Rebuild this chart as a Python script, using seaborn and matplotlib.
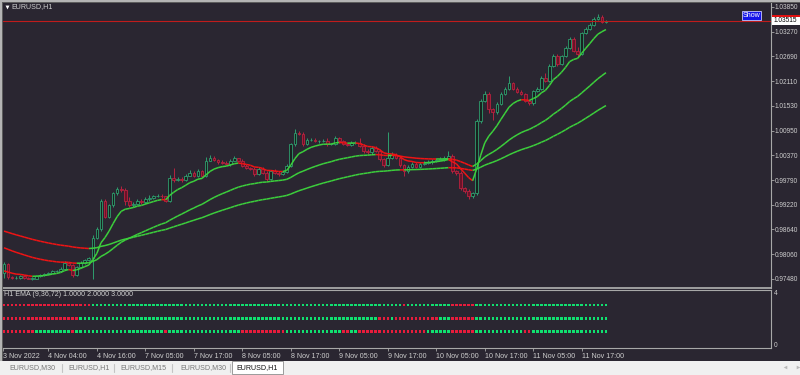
import numpy as np
import pandas as pd
import matplotlib
matplotlib.use("Agg")
import matplotlib.pyplot as plt
import seaborn as sns
from matplotlib.patches import Rectangle
from matplotlib.collections import LineCollection
from matplotlib.lines import Line2D

# ---------------- data ----------------
symbol_title = "EURUSD,H1"
indicator_title = "H1 EMA (9,36,72) 1.0000 2.0000 3.0000"

first_open = 0.9763
closes = [
    0.9784, 0.9753, 0.9751, 0.9751, 0.9756, 0.9751, 0.9749, 0.9749, 0.9756, 0.9758,
    0.9760, 0.9763, 0.9767, 0.9767, 0.9772, 0.9785, 0.9781, 0.9758, 0.9777, 0.9786,
    0.9793, 0.9796, 0.9845, 0.9866, 0.9931, 0.9894, 0.9920, 0.9948, 0.9959, 0.9956,
    0.9931, 0.9920, 0.9924, 0.9931, 0.9927, 0.9936, 0.9938, 0.9941, 0.9943, 0.9941,
    0.9931, 0.9985, 0.9980, 0.9983, 0.9980, 0.9990, 0.9997, 0.9990, 1.0001, 0.9990,
    1.0025, 1.0032, 1.0027, 1.0022, 1.0020, 1.0017, 1.0025, 1.0030, 1.0025, 1.0013,
    1.0008, 1.0006, 0.9994, 1.0006, 0.9997, 0.9983, 1.0001, 0.9997, 0.9994, 0.9999,
    1.0013, 1.0064, 1.0090, 1.0088, 1.0064, 1.0074, 1.0074, 1.0071, 1.0071, 1.0071,
    1.0064, 1.0064, 1.0078, 1.0071, 1.0064, 1.0062, 1.0067, 1.0067, 1.0060, 1.0048,
    1.0044, 1.0055, 1.0048, 1.0029, 1.0015, 1.0032, 1.0039, 1.0032, 1.0015, 1.0001,
    1.0011, 1.0018, 1.0011, 1.0018, 1.0020, 1.0022, 1.0025, 1.0027, 1.0029, 1.0032,
    1.0036, 1.0001, 0.9997, 0.9962, 0.9955, 0.9943, 0.9948, 1.0118, 1.0165, 1.0181,
    1.0146, 1.0139, 1.0158, 1.0181, 1.0193, 1.0207, 1.0193, 1.0186, 1.0181, 1.0165,
    1.0160, 1.0188, 1.0193, 1.0219, 1.0212, 1.0247, 1.0270, 1.0252, 1.0270, 1.0289,
    1.0310, 1.0282, 1.0275, 1.0324, 1.0334, 1.0343, 1.0357, 1.0362, 1.0350, 1.03515,
]
upper_wick_pips = [
    4, 2, 2, 3, 2, 2, 2, 3, 2, 2, 3, 2, 3, 2, 3, 4, 2, 3, 2, 3,
    2, 3, 5, 4, 3, 4, 3, 4, 5, 6, 4, 8, 3, 4, 5, 3, 6, 3, 4, 3,
    2, 6, 22, 4, 3, 4, 5, 3, 4, 3, 8, 5, 3, 2, 4, 3, 3, 5, 2, 3,
    3, 2, 4, 3, 4, 3, 3, 5, 3, 2, 4, 3, 10, 4, 5, 3, 4, 5, 3, 4,
    6, 3, 4, 3, 3, 2, 4, 3, 10, 3, 3, 4, 3, 4, 3, 60, 5, 3, 4, 3,
    3, 3, 4, 3, 3, 4, 3, 3, 5, 4, 12, 4, 3, 3, 2, 3, 3, 5, 5, 6,
    4, 3, 4, 4, 5, 17, 3, 4, 3, 3, 2, 3, 4, 5, 10, 3, 5, 4, 3, 4,
    5, 4, 8, 3, 4, 3, 4, 5, 4, 2,
]
lower_wick_pips = [
    12, 4, 3, 2, 3, 2, 2, 3, 2, 3, 2, 3, 2, 3, 2, 3, 3, 6, 3, 2,
    3, 2, 48, 4, 5, 4, 3, 4, 3, 4, 10, 4, 3, 3, 4, 3, 5, 3, 2, 4,
    4, 3, 4, 3, 5, 3, 2, 4, 3, 4, 3, 2, 3, 4, 3, 3, 4, 2, 3, 4,
    3, 4, 5, 3, 4, 6, 4, 3, 5, 3, 4, 3, 4, 3, 5, 3, 4, 3, 4, 3,
    4, 3, 3, 4, 3, 4, 3, 3, 4, 5, 3, 4, 3, 4, 5, 3, 4, 3, 4, 12,
    4, 3, 3, 4, 3, 3, 4, 3, 3, 4, 3, 4, 6, 5, 6, 7, 5, 3, 4, 3,
    10, 20, 4, 3, 3, 4, 3, 4, 3, 4, 5, 4, 3, 4, 3, 4, 3, 5, 4, 3,
    4, 3, 5, 4, 3, 3, 2, 3, 3, 3,
]
ema_periods = [9, 36, 72]
ema_seeds = [0.9767, 0.9821, 0.9860]
ema_levels = [1, 2, 3]

last_price = 1.03515
last_price_label = "1.03515"
price_ticks = [1.03850, 1.03270, 1.02690, 1.02110, 1.01530, 1.00950,
               1.00370, 0.99790, 0.99220, 0.98640, 0.98060, 0.97480]
price_tick_labels = ["1.03850", "1.03270", "1.02690", "1.02110", "1.01530", "1.00950",
                     "1.00370", "0.99790", "0.99220", "0.98640", "0.98060", "0.97480"]
time_tick_bars = [-0.2, 11, 23, 35, 47, 59, 71, 83, 95, 107, 119, 131, 143]
time_tick_labels = ["3 Nov 2022", "4 Nov 04:00", "4 Nov 16:00", "7 Nov 05:00", "7 Nov 17:00",
                    "8 Nov 05:00", "8 Nov 17:00", "9 Nov 05:00", "9 Nov 17:00",
                    "10 Nov 05:00", "10 Nov 17:00", "11 Nov 05:00", "11 Nov 17:00"]
tab_labels = ["EURUSD,M30", "EURUSD,H1", "EURUSD,M15", "EURUSD,M30", "EURUSD,H1"]

# ---------------- style ----------------
sns.set_style("dark")
plt.rcParams['font.family'] = ['Liberation Sans', 'DejaVu Sans']

BG = '#2a2631'
FRAME = '#a8a8a8'
TXT = '#cfcfcf'
LINE_GREEN = '#3ccf3c'
LINE_RED = '#f01414'
DOT_GREEN = '#10e070'
DOT_RED = '#e81c3c'
BULL_EDGE = '#2f9e6e'
BULL_FILL = '#18221f'
BEAR_EDGE = '#b8223f'
BEAR_FILL = '#6b1228'
FS = 5.1
FS_P = 4.7

W, H = 800, 375
def fx(x): return x / W
def fy(y): return 1 - y / H

fig = plt.figure(figsize=(8, 3.75), dpi=100, facecolor=BG)

ax = fig.add_axes([fx(3), fy(288), (771 - 3) / W, (288 - 3) / H])
axi = fig.add_axes([fx(3), fy(347.5), (771 - 3) / W, (347.5 - 290) / H])
for a in (ax, axi):
    a.set_facecolor(BG)
    a.grid(False)
    for s in a.spines.values():
        s.set_color(FRAME)
        s.set_linewidth(0.8)
    a.spines['left'].set_visible(False)
ax.spines['top'].set_visible(False)
ax.spines['bottom'].set_linewidth(1.3)

# ---------------- candles ----------------
c = np.array(closes)
n = len(c)
idx = np.arange(n)
o = np.r_[first_open, c[:-1]]
hi = np.maximum(o, c) + np.array(upper_wick_pips) * 1e-4
lo = np.minimum(o, c) - np.array(lower_wick_pips) * 1e-4
up = c >= o
dn = ~up

ax.vlines(idx[up], lo[up], hi[up], colors=BULL_EDGE, linewidth=0.7, zorder=1)
ax.vlines(idx[dn], lo[dn], hi[dn], colors=BEAR_EDGE, linewidth=0.7, zorder=1)
ax.bar(idx[up], np.maximum(c - o, 2e-5)[up], bottom=o[up], width=0.68,
       color=BULL_FILL, edgecolor=BULL_EDGE, linewidth=0.6, zorder=2)
ax.bar(idx[dn], np.maximum(o - c, 2e-5)[dn], bottom=c[dn], width=0.68,
       color=BEAR_FILL, edgecolor=BEAR_EDGE, linewidth=0.6, zorder=2)

# ---------------- EMAs ----------------
emas = []
for p, s in zip(ema_periods, ema_seeds):
    k = 2.0 / (p + 1)
    e = [s]
    for v in c[1:]:
        e.append(e[-1] + k * (v - e[-1]))
    emas.append(np.array(e))

rows = []
for level, e in zip(ema_levels, emas):
    d = np.diff(e)
    segs = [[(i, e[i]), (i + 1, e[i + 1])] for i in range(n - 1)]
    cols = [LINE_GREEN if v >= 0 else LINE_RED for v in d]
    ax.add_collection(LineCollection(segs, colors=cols, linewidths=1.1,
                                     capstyle='butt', zorder=4))
    st = np.r_[d[0], d] >= 0
    for i in range(n):
        rows.append((i, level, 'up' if st[i] else 'down'))
dots = pd.DataFrame(rows, columns=['bar', 'level', 'dir'])

ax.axhline(last_price, color='#c01c1c', linewidth=0.8, zorder=3)

ax.set_xlim(-0.2475, 189.85)
ax.set_ylim(0.97269, 1.03937)
ax.set_xticks([])
ax.yaxis.tick_right()
ax.set_yticks(price_ticks)
ax.set_yticklabels(price_tick_labels)
ax.tick_params(axis='y', right=True, left=False, length=2.0, width=0.6, color=FRAME,
               labelsize=FS_P, labelcolor=TXT, pad=0.8)
ax.set_xlabel('')
ax.set_ylabel('')

# ---------------- indicator panel ----------------
sns.scatterplot(data=dots, x='bar', y='level', hue='dir',
                palette={'up': DOT_GREEN, 'down': DOT_RED},
                marker='s', s=3.3, linewidth=0, antialiased=False,
                ax=axi, legend=False, zorder=3)
axi.set_xlim(-0.2475, 189.85)
axi.set_ylim(-0.235, 4.157)
axi.yaxis.tick_right()
axi.set_yticks([0, 4])
axi.set_yticklabels(['0', '4'])
axi.tick_params(axis='y', right=True, left=False, length=0, labelsize=FS_P,
                labelcolor=TXT, pad=2)
axi.set_xticks(time_tick_bars)
axi.set_xticklabels(time_tick_labels)
axi.tick_params(axis='x', bottom=True, length=2.5, width=0.6, color=FRAME,
                labelsize=FS, labelcolor=TXT, pad=1.2)
for lab in axi.get_xticklabels():
    lab.set_horizontalalignment('left')
axi.set_xlabel('')
axi.set_ylabel('')
axi.text(0.0015, 0.93, indicator_title, transform=axi.transAxes, fontsize=FS,
         color=TXT, va='center', ha='left')

# ---------------- frame & decorations ----------------
fig.add_artist(Rectangle((0, fy(361)), fx(2), 361 / H, transform=fig.transFigure,
                         facecolor='#b4b4b4', edgecolor='none'))
fig.add_artist(Rectangle((fx(2), fy(361)), fx(1), 359 / H, transform=fig.transFigure,
                         facecolor='#5c5c5c', edgecolor='none'))
fig.add_artist(Rectangle((0, fy(2)), 1, 2 / H, transform=fig.transFigure,
                         facecolor='#b4b4b4', edgecolor='none'))
fig.add_artist(Rectangle((fx(2), fy(3)), 1, 1 / H, transform=fig.transFigure,
                         facecolor='#5c5c5c', edgecolor='none'))

# title
fig.add_artist(Line2D([fx(6.5)], [fy(6.5)], marker='v', markersize=2.8, color='white',
                      markeredgewidth=0, transform=fig.transFigure))
fig.text(fx(11), fy(6.8), symbol_title, fontsize=FS, color=TXT, va='center', ha='left')

# Show button
fig.add_artist(Rectangle((fx(741.5), fy(20)), 19.5 / W, 9 / H, transform=fig.transFigure,
                         facecolor='#1414e8', edgecolor='#c8c8ff', linewidth=0.6))
fig.text(fx(751.3), fy(15.6), "Show", fontsize=FS, color='white', va='center', ha='center')

# last price label
fig.add_artist(Rectangle((fx(771.5), fy(17)), 28.5 / W, 2 / H, transform=fig.transFigure,
                         facecolor='#e01010', edgecolor='none'))
fig.add_artist(Rectangle((fx(771.5), fy(24.5)), 28.5 / W, 7 / H, transform=fig.transFigure,
                         facecolor='white', edgecolor='none'))
fig.text(fx(773.5), fy(21), last_price_label, fontsize=FS_P, color='black', va='center', ha='left')

# tab bar
fig.add_artist(Rectangle((0, 0), 1, 14 / H, transform=fig.transFigure,
                         facecolor='#f0f0f0', edgecolor='none'))
tab_centers = [32, 89, 143.5, 203.5, 257.5]
for x in [62, 114, 172, 230]:
    fig.add_artist(Line2D([fx(x), fx(x)], [fy(363.5), fy(372)], color='#c4c4c4',
                          linewidth=0.8, transform=fig.transFigure))
fig.add_artist(Rectangle((fx(232), fy(373.5)), 51 / W, 12.5 / H, transform=fig.transFigure,
                         facecolor='white', edgecolor='#8c8c8c', linewidth=0.6))
for i, (lab, xc) in enumerate(zip(tab_labels, tab_centers)):
    fig.text(fx(xc), fy(367.3), lab, fontsize=FS, ha='center', va='center',
             color='#111111' if i == len(tab_labels) - 1 else '#777777')
fig.add_artist(Line2D([fx(785)], [fy(367)], marker='<', markersize=2.6, color='#b8b8b8',
                      markeredgewidth=0, transform=fig.transFigure))
fig.add_artist(Line2D([fx(797.5)], [fy(367)], marker='>', markersize=2.6, color='#b8b8b8',
                      markeredgewidth=0, transform=fig.transFigure))

fig.savefig("out.png", dpi=100, facecolor=BG)
